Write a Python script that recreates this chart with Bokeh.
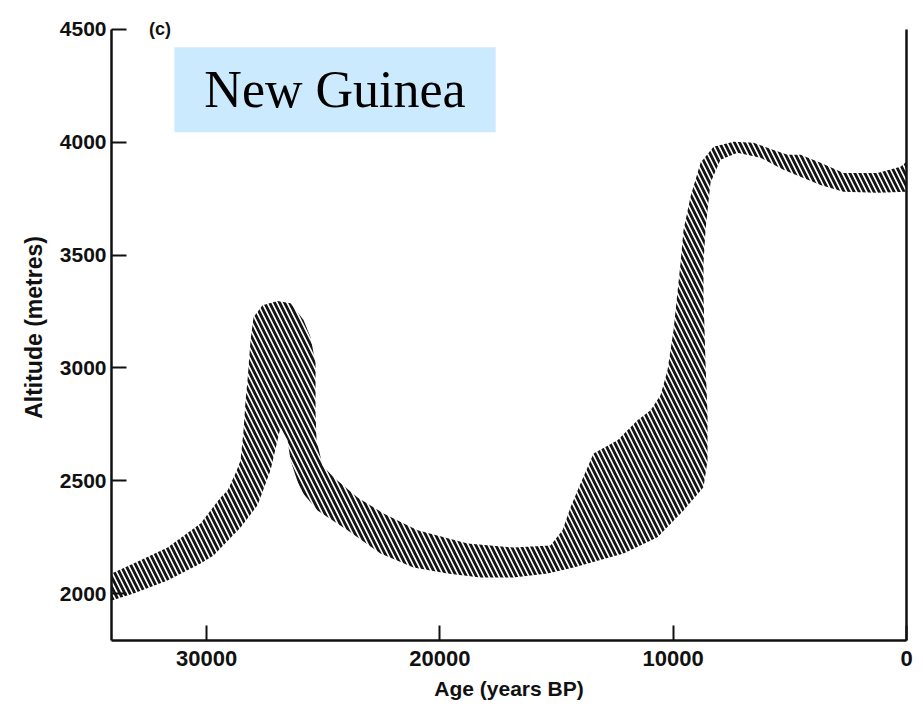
from bokeh.plotting import figure
from bokeh.models import Range1d, FixedTicker, Label, LinearAxis
from bokeh.embed import file_html
from bokeh.resources import INLINE

# Band outline: upper edge from oldest to youngest, then lower edge back
upper_age = [34070, 33130, 31674, 30259, 29402, 29102, 28759, 28545, 28416, 28330,
             28245, 28116, 27988, 27602, 26959, 26402, 25845, 25545, 25330, 25330,
             25287, 25030, 24559, 23530, 22416, 20959, 18816, 16844, 15258, 14744,
             14401, 13972, 13415, 12387, 11529, 10972, 10544, 10244, 9986, 9686,
             9558, 9258, 8829, 8272, 7415, 6558, 5700, 5100, 4543, 3686,
             2700, 1243, 257, 0]
upper_alt = [2089, 2133, 2204, 2311, 2426, 2457, 2533, 2590, 2724, 2857,
             2946, 3123, 3225, 3278, 3296, 3287, 3212, 3136, 3021, 2799,
             2679, 2568, 2515, 2426, 2355, 2280, 2222, 2204, 2213, 2280,
             2382, 2488, 2621, 2679, 2768, 2812, 2879, 2990, 3167, 3465,
             3611, 3758, 3909, 3980, 4002, 3998, 3966, 3944, 3944, 3909,
             3864, 3864, 3891, 3913]
lower_age = [0, 1243, 2700, 3686, 4543, 5272, 6258, 7243, 7972, 8401,
             8615, 8701, 8701, 8615, 8529, 8529, 8701, 9558, 10672, 12129,
             14272, 15387, 16844, 18258, 19673, 21130, 22544, 23959, 25245, 25973,
             26402, 26530, 26830, 27259, 27816, 28545, 29702, 30259, 31674, 33131,
             34070]
lower_alt = [3780, 3776, 3780, 3811, 3847, 3878, 3931, 3953, 3922, 3820,
             3611, 3465, 3314, 3021, 2799, 2590, 2471, 2368, 2249, 2178,
             2115, 2089, 2071, 2071, 2089, 2115, 2178, 2280, 2368, 2457,
             2590, 2679, 2737, 2546, 2391, 2293, 2169, 2133, 2058, 2000,
             1969]

y_ticks = [2000, 2500, 3000, 3500, 4000, 4500]
x_ticks = [30000, 20000, 10000, 0]
x_tick_labels = {30000: "30000", 20000: "20000", 10000: "10000", 0: "0"}

Y_MIN, Y_MAX = 1792, 4566

p = figure(width=918, height=710, output_backend="svg", toolbar_location=None,
           x_range=Range1d(34076, 0), y_range=Range1d(Y_MIN, Y_MAX),
           min_border_left=111, min_border_right=12, min_border_top=14,
           min_border_bottom=70)
p.background_fill_color = "white"
p.border_fill_color = "white"
p.outline_line_color = None
p.grid.visible = False

p.patch(upper_age + lower_age, upper_alt + lower_alt,
        fill_color=None, line_color=None,
        hatch_pattern="\\", hatch_color="#141414", hatch_scale=10, hatch_weight=2.8)

right_axis = LinearAxis(bounds=(Y_MIN, 4500), axis_line_width=2.5, axis_line_color="#111111",
                        ticker=FixedTicker(ticks=[]),
                        major_tick_line_color=None, minor_tick_line_color=None,
                        major_label_standoff=0)
p.add_layout(right_axis, "right")

for ax in (p.xaxis[0], p.yaxis[0]):
    ax.axis_line_width = 2.5
    ax.axis_line_color = "#111111"
    ax.major_tick_line_width = 2
    ax.major_tick_line_color = "#111111"
    ax.major_tick_in = 15
    ax.major_tick_out = 0
    ax.minor_tick_line_color = None
    ax.major_label_text_font = "Liberation Sans"
    ax.major_label_text_font_style = "bold"
    ax.major_label_text_color = "#111111"
    ax.axis_label_text_font = "Liberation Sans"
    ax.axis_label_text_font_style = "bold"
    ax.axis_label_text_color = "#111111"

p.xaxis[0].ticker = FixedTicker(ticks=x_ticks)
p.xaxis[0].major_label_overrides = x_tick_labels
p.xaxis[0].axis_label = "Age (years BP)"
p.xaxis[0].axis_label_text_font_size = "21px"
p.xaxis[0].major_label_text_font_size = "22px"
p.xaxis[0].major_label_standoff = 10
p.xaxis[0].axis_label_standoff = 8

p.yaxis[0].ticker = FixedTicker(ticks=y_ticks)
p.yaxis[0].bounds = (Y_MIN, 4500)
p.yaxis[0].axis_label = "Altitude (metres)"
p.yaxis[0].axis_label_text_font_size = "23px"
p.yaxis[0].major_label_text_font_size = "21px"
p.yaxis[0].major_label_standoff = 5
p.yaxis[0].axis_label_standoff = 10

p.add_layout(Label(x=32000, y=4500, text="(c)", text_align="center", text_baseline="middle",
                   text_font="Liberation Sans", text_font_style="bold", text_font_size="18px",
                   text_color="#111111"))

p.add_layout(Label(x=24495, y=4233, text="New Guinea", text_align="center",
                   text_baseline="middle", text_font="Liberation Serif",
                   text_font_size="52px", text_color="black",
                   background_fill_color="#cceafd",
                   padding=dict(left=30, right=30, top=14, bottom=14)))

open("out.html", "w").write(file_html(p, INLINE))
